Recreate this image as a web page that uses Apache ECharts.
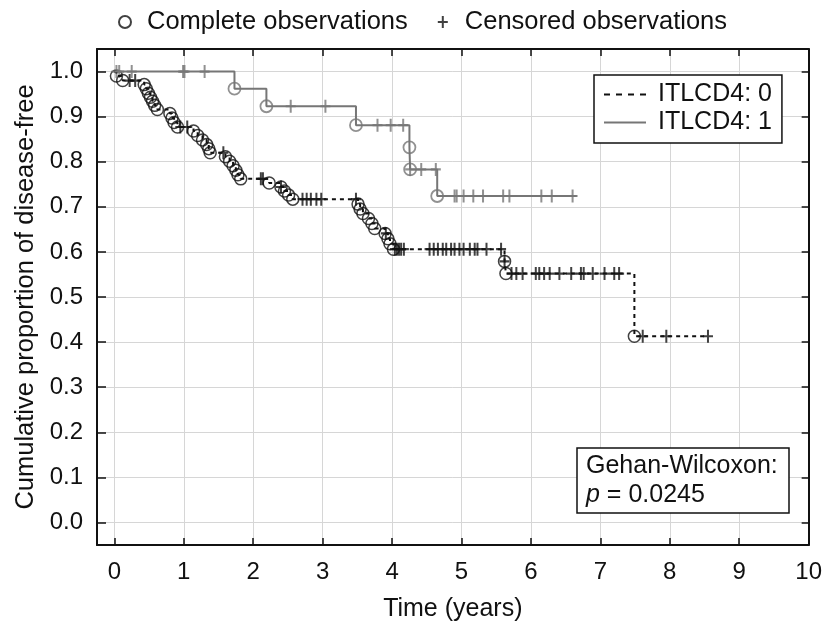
<!DOCTYPE html>
<html lang="en">
<head>
<meta charset="UTF-8">
<title>Disease-free survival by ITLCD4</title>
<script src="https://cdn.jsdelivr.net/npm/echarts@6/dist/echarts.min.js"></script>
<style>
    body { margin: 0; background: #fff; }
    #main { width: 825px; height: 630px; }
</style>
</head>
<body>
<div id="main"></div>
<script>
    // ITLCD4: 0 -- event times (years) and survival after each event
    var g0EventTimes = [0.03, 0.12, 0.43, 0.46, 0.49, 0.52, 0.55, 0.58, 0.62, 0.80, 0.83, 0.86, 0.91,
        1.14, 1.20, 1.27, 1.33, 1.36, 1.38, 1.60, 1.66, 1.71, 1.75, 1.78, 1.82,
        2.23, 2.40, 2.45, 2.51, 2.57, 3.51, 3.54, 3.58, 3.66, 3.71, 3.75, 3.90, 3.94, 3.97, 4.02,
        5.62, 5.64, 7.49];
    var g0EventSurv = [0.990, 0.980, 0.971, 0.962, 0.952, 0.943, 0.934, 0.925, 0.916, 0.907, 0.897, 0.887, 0.877,
        0.868, 0.858, 0.848, 0.838, 0.829, 0.820, 0.811, 0.801, 0.791, 0.781, 0.771, 0.762,
        0.753, 0.744, 0.735, 0.726, 0.717, 0.706, 0.695, 0.685, 0.674, 0.663, 0.652, 0.641, 0.629, 0.618, 0.606,
        0.579, 0.552, 0.413];
    var g0CensorTimes = [0.22, 0.30, 0.95, 1.05, 1.57, 2.11, 2.14, 2.40, 2.71, 2.77, 2.83, 2.91, 2.98, 3.48,
        3.91, 4.04, 4.07, 4.10, 4.13, 4.17, 4.54, 4.60, 4.66, 4.73, 4.78, 4.85, 4.90, 4.97, 5.03, 5.12,
        5.19, 5.23, 5.36, 5.57, 5.62, 5.72, 5.79, 5.88, 6.07, 6.12, 6.19, 6.27, 6.41, 6.58, 6.72, 6.76,
        6.89, 7.06, 7.20, 7.27, 7.61, 7.95, 8.55];
    var g0End = 8.55;

    // ITLCD4: 1
    var g1EventTimes = [1.73, 2.19, 3.48, 4.25, 4.26, 4.65];
    var g1EventSurv = [0.962, 0.923, 0.881, 0.832, 0.783, 0.724];
    var g1CensorTimes = [0.03, 0.07, 0.25, 0.99, 1.01, 1.30, 2.54, 3.04, 3.79, 3.98, 4.16, 4.26, 4.42, 4.63,
        4.90, 4.93, 5.03, 5.17, 5.31, 5.60, 5.69, 6.15, 6.30, 6.60];
    var g1End = 6.66;

    var xTicks = [0, 1, 2, 3, 4, 5, 6, 7, 8, 9, 10];
    var yTicks = [0, 0.1, 0.2, 0.3, 0.4, 0.5, 0.6, 0.7, 0.8, 0.9, 1.0];

    var plusPath = 'path://M4,0H6V12H4ZM0,5H10V7H0Z';
    var dashIcon = 'path://M0,0H6V2H0ZM12,0H18V2H12ZM24,0H30V2H24ZM36,0H42V2H36Z';
    var solidIcon = 'path://M0,0H42V2H0Z';

    function stepData(times, surv, end) {
        var d = [[0, 1]];
        for (var i = 0; i < times.length; i++) d.push([times[i], surv[i]]);
        d.push([end, surv[surv.length - 1]]);
        return d;
    }
    function survAt(times, surv, t) {
        var s = 1;
        for (var i = 0; i < times.length; i++) if (times[i] <= t) s = surv[i];
        return s;
    }
    function points(times, surv) {
        return times.map(function (t, i) { return [t, surv[i]]; });
    }
    function censorPoints(ctimes, times, surv) {
        return ctimes.map(function (t) { return [t, survAt(times, surv, t)]; });
    }

    var black = '#111';
    var grey = '#767676';
    var font = 'Liberation Sans, Arial, sans-serif';
    var axisLine = { onZero: false, lineStyle: { color: black, width: 2 } };

    var myChart = echarts.init(document.getElementById('main'));
    var option = {
        animation: false,
        backgroundColor: '#fff',
        textStyle: { fontFamily: font },
        grid: { left: 97, right: 15, top: 49, bottom: 85 },
        legend: [{
            data: [
                { name: 'Complete observations', icon: 'circle' },
                { name: 'Censored observations', icon: plusPath }
            ],
            left: 113, top: 4,
            itemWidth: 12, itemHeight: 12, itemGap: 30,
            selectedMode: false,
            textStyle: { fontSize: 25.5, color: black, padding: [0, 0, 0, 11] }
        }, {
            data: [
                { name: 'ITLCD4: 0', icon: dashIcon },
                { name: 'ITLCD4: 1', icon: solidIcon }
            ],
            orient: 'vertical',
            left: 594, top: 75,
            padding: [7, 10, 8, 10],
            itemWidth: 42, itemHeight: 2, itemGap: 3,
            borderColor: black, borderWidth: 1.5,
            backgroundColor: '#fff',
            selectedMode: false,
            textStyle: { fontSize: 25, color: black, padding: [0, 0, 0, 7] }
        }],
        xAxis: [{
            type: 'value', min: -0.25, max: 10, position: 'bottom',
            name: 'Time (years)', nameLocation: 'middle', nameGap: 52,
            nameTextStyle: { fontSize: 25, color: black },
            axisLine: axisLine,
            axisTick: { inside: true, length: 7, customValues: xTicks, lineStyle: { color: black, width: 1.5 } },
            axisLabel: { customValues: xTicks, fontSize: 24, color: black, margin: 15 },
            splitLine: { show: true, lineStyle: { color: '#d6d6d6', width: 1 } }
        }, {
            type: 'value', min: -0.25, max: 10, position: 'top',
            axisLine: axisLine,
            axisTick: { inside: true, length: 7, customValues: xTicks, lineStyle: { color: black, width: 1.5 } },
            axisLabel: { show: false },
            splitLine: { show: false }
        }],
        yAxis: [{
            type: 'value', min: -0.05, max: 1.05, position: 'left',
            name: 'Cumulative proportion of disease-free', nameLocation: 'middle', nameGap: 57,
            nameTextStyle: { fontSize: 25.5, color: black },
            axisLine: axisLine,
            axisTick: { inside: true, length: 9, customValues: yTicks, lineStyle: { color: black, width: 1.5 } },
            axisLabel: {
                customValues: yTicks, fontSize: 24, color: black, margin: 14,
                formatter: function (v) { return v.toFixed(1); }
            },
            splitLine: { show: true, lineStyle: { color: '#d6d6d6', width: 1 } }
        }, {
            type: 'value', min: -0.05, max: 1.05, position: 'right',
            axisLine: axisLine,
            axisTick: { inside: true, length: 7, customValues: yTicks, lineStyle: { color: black, width: 1.5 } },
            axisLabel: { show: false },
            splitLine: { show: false }
        }],
        graphic: [{
            type: 'rect', z: 100,
            shape: { x: 577, y: 448, width: 212, height: 65 },
            style: { fill: '#fff', stroke: black, lineWidth: 1.5 }
        }, {
            type: 'text', z: 101, left: 586, top: 452,
            style: {
                text: 'Gehan-Wilcoxon:\n{i|p} = 0.0245',
                fontSize: 25, lineHeight: 29, fill: black, fontFamily: font,
                rich: { i: { fontStyle: 'italic', fontSize: 25, fontFamily: font } }
            }
        }],
        series: [{
            name: 'ITLCD4: 0', type: 'line', step: 'end', symbol: 'none', silent: true,
            lineStyle: { color: black, width: 2, type: [4, 4] },
            itemStyle: { color: black },
            data: stepData(g0EventTimes, g0EventSurv, g0End)
        }, {
            name: 'ITLCD4: 1', type: 'line', step: 'end', symbol: 'none', silent: true,
            lineStyle: { color: grey, width: 2 },
            itemStyle: { color: grey },
            data: stepData(g1EventTimes, g1EventSurv, g1End)
        }, {
            name: 'Complete observations', type: 'scatter', symbol: 'circle', symbolSize: 12,
            itemStyle: { color: 'rgba(0,0,0,0)', borderColor: black, borderWidth: 1.5 },
            data: points(g0EventTimes, g0EventSurv)
        }, {
            name: 'Censored observations', type: 'scatter', symbol: plusPath, symbolSize: [10, 13],
            itemStyle: { color: black },
            data: censorPoints(g0CensorTimes, g0EventTimes, g0EventSurv)
        }, {
            name: 'g1 complete', type: 'scatter', symbol: 'circle', symbolSize: 12,
            itemStyle: { color: 'rgba(0,0,0,0)', borderColor: grey, borderWidth: 1.8 },
            data: points(g1EventTimes, g1EventSurv)
        }, {
            name: 'g1 censored', type: 'scatter', symbol: plusPath, symbolSize: [10, 13],
            itemStyle: { color: grey },
            data: censorPoints(g1CensorTimes, g1EventTimes, g1EventSurv)
        }]
    };
    myChart.setOption(option);
</script>
</body>
</html>
